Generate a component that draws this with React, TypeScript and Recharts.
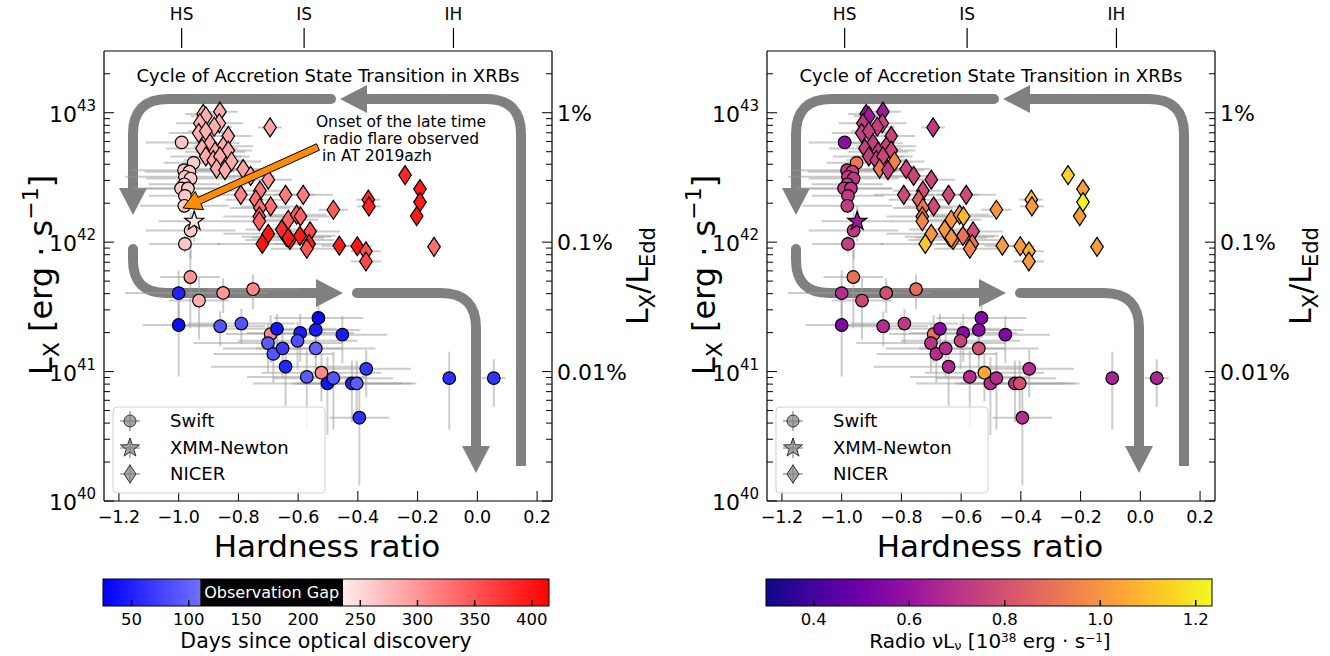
import React from 'react';
import { ScatterChart, Scatter, XAxis, YAxis, ErrorBar } from 'recharts';

// [hardness ratio, L_X (erg/s), HR error, fractional L_X error, days since discovery, radio nuLnu (1e38 erg/s)]
type Row = [number, number, number, number, number, number];

const swiftPoints: Row[] = [
  [-0.990, 5.9e42, 0.12, 0.12, 265, 0.58],
  [-0.950, 4.1e42, 0.10, 0.12, 258, 0.92],
  [-0.982, 3.6e42, 0.18, 0.12, 262, 0.72],
  [-0.964, 3.5e42, 0.15, 0.12, 262, 0.74],
  [-0.979, 3.2e42, 0.20, 0.12, 262, 0.73],
  [-0.960, 3.1e42, 0.15, 0.12, 262, 0.72],
  [-0.981, 2.8e42, 0.12, 0.12, 262, 0.74],
  [-0.992, 2.6e42, 0.16, 0.12, 262, 0.73],
  [-0.969, 2.6e42, 0.14, 0.12, 262, 0.72],
  [-0.979, 2.28e42, 0.12, 0.12, 262, 0.73],
  [-0.981, 1.91e42, 0.15, 0.12, 262, 0.73],
  [-0.960, 1.23e42, 0.15, 0.4, 262, 0.72],
  [-0.979, 9.7e41, 0.12, 0.15, 262, 0.74],
  [-0.961, 5.38e41, 0.10, 0.6, 300, 0.90],
  [-1.000, 4.04e41, 0.18, 0.5, 50, 0.68],
  [-0.932, 3.54e41, 0.10, 0.5, 280, 0.76],
  [-0.851, 4.05e41, 0.15, 0.3, 300, 0.80],
  [-0.751, 4.33e41, 0.15, 0.3, 310, 0.88],
  [-1.000, 2.29e41, 0.12, 0.6, 35, 0.55],
  [-0.861, 2.24e41, 0.15, 0.3, 90, 0.68],
  [-0.790, 2.35e41, 0.18, 0.3, 90, 0.72],
  [-0.692, 1.95e41, 0.15, 0.4, 310, 0.90],
  [-0.671, 2.14e41, 0.20, 0.3, 40, 0.56],
  [-0.701, 1.66e41, 0.25, 0.4, 95, 0.70],
  [-0.683, 1.37e41, 0.20, 0.4, 90, 0.68],
  [-0.652, 1.51e41, 0.20, 0.4, 70, 0.68],
  [-0.642, 1.09e41, 0.25, 0.5, 55, 0.66],
  [-0.593, 1.99e41, 0.18, 0.4, 45, 0.57],
  [-0.602, 1.73e41, 0.20, 0.4, 85, 0.75],
  [-0.532, 2.60e41, 0.15, 0.3, 30, 0.55],
  [-0.541, 2.10e41, 0.15, 0.4, 45, 0.57],
  [-0.541, 1.51e41, 0.20, 0.4, 100, 0.80],
  [-0.452, 1.93e41, 0.15, 0.4, 45, 0.55],
  [-0.571, 9.1e40, 0.20, 0.6, 95, 0.68],
  [-0.522, 9.8e40, 0.20, 0.4, 310, 1.05],
  [-0.502, 8.1e40, 0.25, 0.6, 40, 0.68],
  [-0.482, 8.9e40, 0.20, 0.6, 90, 0.68],
  [-0.420, 8.1e40, 0.20, 0.5, 50, 0.70],
  [-0.404, 8.1e40, 0.20, 0.5, 95, 0.80],
  [-0.395, 4.4e40, 0.10, 0.7, 60, 0.68],
  [-0.372, 1.05e41, 0.15, 0.4, 65, 0.68],
  [-0.094, 8.9e40, 0.01, 0.6, 60, 0.65],
  [0.055, 8.9e40, 0.04, 0.4, 65, 0.66],
];

const xmmPoints: Row[] = [
  [-0.948, 1.45e42, 0.12, 0.3, 240, 0.62],
];

const nicerPoints: Row[] = [
  [-0.918, 9.8e42, 0.06, 0.03, 280, 0.60],
  [-0.909, 9.4e42, 0.05, 0.03, 280, 0.62],
  [-0.929, 8.3e42, 0.08, 0.03, 280, 0.72],
  [-0.862, 1.02e43, 0.06, 0.03, 285, 0.62],
  [-0.864, 8.3e42, 0.08, 0.03, 285, 0.75],
  [-0.881, 7.8e42, 0.06, 0.03, 280, 0.74],
  [-0.933, 6.96e42, 0.10, 0.03, 280, 0.74],
  [-0.909, 7.2e42, 0.06, 0.03, 280, 0.74],
  [-0.834, 6.6e42, 0.08, 0.03, 285, 0.76],
  [-0.694, 7.7e42, 0.04, 0.03, 290, 0.72],
  [-0.895, 5.8e42, 0.10, 0.03, 285, 0.74],
  [-0.851, 5.5e42, 0.10, 0.03, 285, 0.75],
  [-0.922, 5.3e42, 0.12, 0.03, 280, 0.74],
  [-0.878, 5.0e42, 0.10, 0.03, 285, 0.74],
  [-0.834, 5.1e42, 0.08, 0.03, 285, 0.76],
  [-0.909, 4.6e42, 0.12, 0.03, 285, 0.74],
  [-0.884, 4.3e42, 0.10, 0.03, 285, 0.75],
  [-0.862, 4.6e42, 0.10, 0.03, 285, 0.76],
  [-0.823, 4.2e42, 0.10, 0.03, 285, 0.95],
  [-0.873, 3.7e42, 0.10, 0.03, 285, 0.92],
  [-0.845, 3.6e42, 0.12, 0.03, 285, 0.74],
  [-0.784, 3.67e42, 0.08, 0.03, 290, 0.76],
  [-0.759, 3.25e42, 0.08, 0.03, 290, 0.76],
  [-0.700, 3.04e42, 0.08, 0.03, 300, 0.76],
  [-0.792, 2.32e42, 0.10, 0.03, 315, 0.78],
  [-0.728, 2.50e42, 0.10, 0.03, 325, 0.78],
  [-0.642, 2.32e42, 0.10, 0.03, 320, 0.78],
  [-0.583, 2.32e42, 0.10, 0.03, 320, 0.78],
  [-0.742, 2.13e42, 0.10, 0.03, 330, 0.85],
  [-0.692, 1.89e42, 0.10, 0.03, 330, 0.78],
  [-0.728, 1.84e42, 0.10, 0.03, 330, 0.92],
  [-0.730, 1.58e42, 0.12, 0.03, 340, 0.92],
  [-0.730, 1.45e42, 0.10, 0.03, 340, 0.95],
  [-0.633, 1.49e42, 0.10, 0.03, 340, 1.00],
  [-0.605, 1.63e42, 0.10, 0.03, 345, 1.00],
  [-0.592, 1.58e42, 0.10, 0.03, 340, 1.10],
  [-0.700, 1.16e42, 0.15, 0.03, 400, 1.00],
  [-0.720, 9.7e41, 0.15, 0.03, 400, 1.12],
  [-0.639, 1.10e42, 0.15, 0.03, 395, 1.05],
  [-0.655, 1.25e42, 0.12, 0.03, 380, 1.00],
  [-0.627, 1.04e42, 0.15, 0.03, 395, 0.95],
  [-0.560, 1.21e42, 0.10, 0.03, 360, 0.78],
  [-0.594, 1.12e42, 0.12, 0.03, 395, 0.90],
  [-0.633, 1.08e42, 0.12, 0.03, 395, 1.00],
  [-0.563, 9.7e41, 0.12, 0.03, 395, 0.92],
  [-0.571, 8.9e41, 0.12, 0.03, 350, 0.95],
  [-0.462, 9.4e41, 0.06, 0.03, 395, 1.02],
  [-0.402, 9.3e41, 0.05, 0.03, 400, 1.02],
  [-0.373, 8.5e41, 0.05, 0.03, 355, 1.08],
  [-0.373, 7.1e41, 0.05, 0.03, 360, 1.02],
  [-0.482, 1.78e42, 0.05, 0.03, 345, 1.00],
  [-0.365, 2.13e42, 0.04, 0.03, 380, 1.10],
  [-0.363, 1.89e42, 0.04, 0.03, 390, 1.02],
  [-0.242, 3.30e42, 0.02, 0.03, 385, 1.15],
  [-0.192, 2.57e42, 0.02, 0.03, 395, 1.02],
  [-0.192, 2.04e42, 0.02, 0.03, 395, 1.22],
  [-0.203, 1.59e42, 0.02, 0.03, 395, 1.02],
  [-0.145, 9.2e41, 0.02, 0.03, 330, 1.02],
];

const xTicks = [-1.2, -1.0, -0.8, -0.6, -0.4, -0.2, 0.0, 0.2];
const stateTicks = [-0.99, -0.58, -0.08];
const stateLabels = ['HS', 'IS', 'IH'];
const eddTicks = [1e41, 1e42, 1e43];
const eddLabels = ['0.01%', '0.1%', '1%'];
const dayTicks = [50, 100, 150, 200, 250, 300, 350, 400];
const dayRange = [25, 415];
const gapRange = [110, 235];
const radioTicks = [0.4, 0.6, 0.8, 1.0, 1.2];
const radioRange = [0.3, 1.234];

const lxTicks: number[] = [];
for (const d of [40, 41, 42]) for (let k = 1; k <= 9; k++) lxTicks.push(k * Math.pow(10, d));
lxTicks.push(1e43, 2e43);

const W = 664, H = 656;
const PL = 104, PT = 51, PR = 552, PB = 501;
const AXW = 60, AXH = 30;
const FONT = "'DejaVu Sans', sans-serif";
const GREY = '#808080';

const plasmaStops = ['#0d0887', '#41049d', '#6a00a8', '#8f0da4', '#b12a90', '#cc4778', '#e16462', '#f2844b', '#fca636', '#fcce25', '#f0f921'];

function hex(h: string) {
  return [1, 3, 5].map((i) => parseInt(h.slice(i, i + 2), 16));
}
function plasma(t: number) {
  t = Math.max(0, Math.min(1, t));
  const s = t * (plasmaStops.length - 1);
  const i = Math.min(Math.floor(s), plasmaStops.length - 2);
  const f = s - i;
  const a = hex(plasmaStops[i]), b = hex(plasmaStops[i + 1]);
  const c = a.map((v, k) => Math.round(v + (b[k] - v) * f));
  return `rgb(${c[0]},${c[1]},${c[2]})`;
}
function bwr(t: number) {
  t = Math.max(0, Math.min(1, t));
  if (t < 0.5) {
    const v = Math.round(510 * t);
    return `rgb(${v},${v},255)`;
  }
  const v = Math.round(510 * (1 - t));
  return `rgb(255,${v},${v})`;
}
const dayColor = (d: number) => bwr((d - dayRange[0]) / (dayRange[1] - dayRange[0]));
const radioColor = (r: number) => plasma((r - radioRange[0]) / (radioRange[1] - radioRange[0]));

const isMajor = (v: number) => {
  const lg = Math.log10(v);
  return Math.abs(lg - Math.round(lg)) < 1e-6;
};

const LeftTick = (props: any) => {
  const { y, payload } = props;
  const v = payload.value;
  const major = isMajor(v);
  return (
    <g>
      <line x1={PL} x2={PL + (major ? 10 : 6)} y1={y} y2={y} stroke="#000" strokeWidth={1} />
      {major && (
        <text x={PL - 8} y={y + 9} textAnchor="end" fontSize={22} fontFamily={FONT} fill="#000">
          10<tspan dy={-11} fontSize={15}>{Math.round(Math.log10(v))}</tspan>
        </text>
      )}
    </g>
  );
};

const RightTick = (props: any) => {
  const { y, payload } = props;
  const v = payload.value;
  const major = isMajor(v);
  const idx = eddTicks.findIndex((t) => Math.abs(Math.log10(t) - Math.log10(v)) < 1e-6);
  return (
    <g>
      <line x1={PR} x2={PR - (major ? 10 : 6)} y1={y} y2={y} stroke="#000" strokeWidth={1} />
      {idx >= 0 && (
        <text x={PR + 5} y={y + 8} textAnchor="start" fontSize={22} fontFamily={FONT} fill="#000">
          {eddLabels[idx]}
        </text>
      )}
    </g>
  );
};

const BottomTick = (props: any) => {
  const { x, payload } = props;
  const v = payload.value as number;
  const label = v < 0 ? '\u2212' + Math.abs(v).toFixed(1) : v.toFixed(1);
  return (
    <g>
      <line x1={x} x2={x} y1={PB} y2={PB - 10} stroke="#000" strokeWidth={1} />
      <text x={x} y={PB + 22} textAnchor="middle" fontSize={17.5} fontFamily={FONT} fill="#000">{label}</text>
    </g>
  );
};

const TopTick = (props: any) => {
  const { x, index } = props;
  return (
    <g>
      <line x1={x} x2={x} y1={28} y2={48} stroke="#000" strokeWidth={1.2} />
      <text x={x} y={20} textAnchor="middle" fontSize={17} fontFamily={FONT} fill="#000">{stateLabels[index]}</text>
    </g>
  );
};

const Circle = (p: any) => (
  <circle cx={p.cx} cy={p.cy} r={6.3} fill={p.payload.color} stroke="#000" strokeWidth={1.2} />
);
const Diamond = (p: any) => {
  const { cx, cy } = p;
  return (
    <polygon
      points={`${cx},${cy - 9.5} ${cx + 6.3},${cy} ${cx},${cy + 9.5} ${cx - 6.3},${cy}`}
      fill={p.payload.color}
      stroke="#000"
      strokeWidth={1.2}
    />
  );
};
function starPoints(cx: number, cy: number, ro: number, ri: number) {
  const pts: string[] = [];
  for (let i = 0; i < 10; i++) {
    const r = i % 2 === 0 ? ro : ri;
    const a = -Math.PI / 2 + (i * Math.PI) / 5;
    pts.push(`${cx + r * Math.cos(a)},${cy + r * Math.sin(a)}`);
  }
  return pts.join(' ');
}
const Star = (p: any) => (
  <polygon points={starPoints(p.cx, p.cy, 10, 4)} fill={p.payload.color} stroke="#000" strokeWidth={1.2} />
);
const Nothing = () => <g />;

function Arrows() {
  return (
    <svg width={W} height={H} style={{ position: 'absolute', left: 0, top: 0 }}>
      <g fill="none" stroke={GREY} strokeWidth={10}>
        <path d="M521 466 L521 134 Q521 99 486 99 L364 99" />
        <path d="M331 99 L168 99 Q133 99 133 134 L133 190" strokeLinecap="round" />
        <path d="M133 249 L133 260 Q133 293 166 293 L318 293" strokeLinecap="round" />
        <path d="M357 293 L441 293 Q476 293 476 328 L476 448" strokeLinecap="round" />
      </g>
      <g fill={GREY}>
        <polygon points="340,99 367,85 367,113" />
        <polygon points="133,215 119,188 147,188" />
        <polygon points="343,293 316,279 316,307" />
        <polygon points="476,473 462,446 490,446" />
      </g>
    </svg>
  );
}

function Overlay({ mode }: { mode: 'days' | 'radio' }) {
  const cx0 = 103, cx1 = 549, cy0 = 579, ch = 27;
  const dpos = (v: number) => cx0 + ((v - dayRange[0]) / (dayRange[1] - dayRange[0])) * (cx1 - cx0);
  const rpos = (v: number) => cx0 + ((v - radioRange[0]) / (radioRange[1] - radioRange[0])) * (cx1 - cx0);
  const gid = `g-${mode}`;
  const stops = (f: (t: number) => string, t0: number, t1: number) =>
    Array.from({ length: 11 }, (_, i) => {
      const t = t0 + ((t1 - t0) * i) / 10;
      return <stop key={i} offset={`${i * 10}%`} stopColor={f(t)} />;
    });
  const tD = (d: number) => (d - dayRange[0]) / (dayRange[1] - dayRange[0]);
  const legendRows = [
    { label: 'Swift', y: 421, kind: 'c' },
    { label: 'XMM-Newton', y: 448, kind: 's' },
    { label: 'NICER', y: 474, kind: 'd' },
  ];
  const orangeArrow = (() => {
    const x0 = 318, y0 = 147, x1 = 183, y1 = 208;
    const L = Math.hypot(x1 - x0, y1 - y0);
    const ux = (x1 - x0) / L, uy = (y1 - y0) / L;
    const nx = -uy, ny = ux;
    const hl = 18, hw = 10, sw = 3.5;
    const bx = x1 - ux * hl, by = y1 - uy * hl;
    const p = [
      [x0 + nx * sw, y0 + ny * sw],
      [bx + nx * sw, by + ny * sw],
      [bx + nx * hw, by + ny * hw],
      [x1, y1],
      [bx - nx * hw, by - ny * hw],
      [bx - nx * sw, by - ny * sw],
      [x0 - nx * sw, y0 - ny * sw],
    ];
    return p.map((q) => q.join(',')).join(' ');
  })();
  return (
    <svg width={W} height={H} style={{ position: 'absolute', left: 0, top: 0, pointerEvents: 'none' }} fontFamily={FONT}>
      <text x={328} y={82} textAnchor="middle" fontSize={18}>Cycle of Accretion State Transition in XRBs</text>
      {mode === 'days' && (
        <g>
          <text x={401} y={127} textAnchor="middle" fontSize={15.5}>Onset of the late time</text>
          <text x={401} y={144} textAnchor="middle" fontSize={15.5}>radio flare observed</text>
          <text x={322} y={161} textAnchor="start" fontSize={15.5}>in AT 2019azh</text>
          <polygon points={orangeArrow} fill="#ff8c00" stroke="#000" strokeWidth={1} />
        </g>
      )}
      {/* legend */}
      <rect x={113} y={407} width={212} height={86} rx={4} fill="#fff" fillOpacity={0.8} stroke="#d0d0d0" />
      {legendRows.map((r) => (
        <g key={r.label}>
          <line x1={120} x2={140} y1={r.y} y2={r.y} stroke="#999" strokeOpacity={0.7} strokeWidth={2} />
          <line x1={130} x2={130} y1={r.y - 10} y2={r.y + 10} stroke="#999" strokeOpacity={0.7} strokeWidth={2} />
          {r.kind === 'c' && <circle cx={130} cy={r.y} r={6} fill={GREY} fillOpacity={0.7} stroke="#333" />}
          {r.kind === 's' && <polygon points={starPoints(130, r.y, 10, 4)} fill={GREY} fillOpacity={0.7} stroke="#333" />}
          {r.kind === 'd' && (
            <polygon points={`130,${r.y - 9} 136,${r.y} 130,${r.y + 9} 124,${r.y}`} fill={GREY} fillOpacity={0.7} stroke="#333" />
          )}
          <text x={170} y={r.y + 6} fontSize={18}>{r.label}</text>
        </g>
      ))}
      {/* axis titles */}
      <text x={327} y={557} textAnchor="middle" fontSize={31}>Hardness ratio</text>
      <text transform="translate(52,275) rotate(-90)" textAnchor="middle" fontSize={32}>
        L<tspan fontSize={22} dy={7}>X</tspan>
        <tspan dy={-7}> [erg · s</tspan>
        <tspan fontSize={22} dy={-14}>{'\u22121'}</tspan>
        <tspan dy={14}>]</tspan>
      </text>
      <text transform="translate(648,276) rotate(-90)" textAnchor="middle" fontSize={30}>
        L<tspan fontSize={21} dy={7}>X</tspan>
        <tspan dy={-7}>/L</tspan>
        <tspan fontSize={21} dy={7}>Edd</tspan>
      </text>
      {/* colorbar */}
      <defs>
        {mode === 'days' ? (
          <>
            <linearGradient id={`${gid}-b`}>{stops(bwr, tD(dayRange[0]), tD(gapRange[0]))}</linearGradient>
            <linearGradient id={`${gid}-r`}>{stops(bwr, tD(gapRange[1]), tD(dayRange[1]))}</linearGradient>
          </>
        ) : (
          <linearGradient id={`${gid}-p`}>{stops(plasma, 0, 1)}</linearGradient>
        )}
      </defs>
      {mode === 'days' ? (
        <g>
          <rect x={cx0} y={cy0} width={dpos(gapRange[0]) - cx0} height={ch} fill={`url(#${gid}-b)`} />
          <rect x={dpos(gapRange[0])} y={cy0} width={dpos(gapRange[1]) - dpos(gapRange[0])} height={ch} fill="#000" />
          <rect x={dpos(gapRange[1])} y={cy0} width={cx1 - dpos(gapRange[1])} height={ch} fill={`url(#${gid}-r)`} />
          <text x={(dpos(gapRange[0]) + dpos(gapRange[1])) / 2} y={cy0 + 19} textAnchor="middle" fontSize={16} fill="#fff">
            Observation Gap
          </text>
          {dayTicks.map((v) => (
            <g key={v}>
              {(v < gapRange[0] || v > gapRange[1]) && (
                <line x1={dpos(v)} x2={dpos(v)} y1={cy0 + ch} y2={cy0 + ch - 6} stroke="#000" strokeWidth={1.5} />
              )}
              <text x={dpos(v)} y={cy0 + ch + 19} textAnchor="middle" fontSize={16.5}>{v}</text>
            </g>
          ))}
          <text x={326} y={648} textAnchor="middle" fontSize={20.5}>Days since optical discovery</text>
        </g>
      ) : (
        <g>
          <rect x={cx0} y={cy0} width={cx1 - cx0} height={ch} fill={`url(#${gid}-p)`} />
          {radioTicks.map((v) => (
            <g key={v}>
              <line x1={rpos(v)} x2={rpos(v)} y1={cy0 + ch} y2={cy0 + ch - 6} stroke="#000" strokeWidth={1.5} />
              <text x={rpos(v)} y={cy0 + ch + 19} textAnchor="middle" fontSize={16.5}>{v.toFixed(1)}</text>
            </g>
          ))}
          <text x={327} y={648} textAnchor="middle" fontSize={20}>
            Radio νL<tspan fontSize={13} dy={2}>ν</tspan>
            <tspan dy={-2}> [10</tspan>
            <tspan fontSize={12} dy={-6}>38</tspan>
            <tspan dy={6}> erg · s</tspan>
            <tspan fontSize={12} dy={-6}>{'\u22121'}</tspan>
            <tspan dy={6}>]</tspan>
          </text>
        </g>
      )}
      <rect x={cx0} y={cy0} width={cx1 - cx0} height={ch} fill="none" stroke="#000" strokeWidth={1} />
    </svg>
  );
}

function Panel({ mode, left }: { mode: 'days' | 'radio'; left: number }) {
  const build = (rows: Row[]) =>
    rows.map((r) => ({
      hr: r[0],
      lx: r[1],
      ex: r[2],
      ey: [r[1] * r[3], r[1] * r[3]],
      color: mode === 'days' ? dayColor(r[4]) : radioColor(r[5]),
    }));
  const swift = build(swiftPoints);
  const xmm = build(xmmPoints);
  const nicer = build(nicerPoints);
  const all = [...swift, ...xmm, ...nicer];
  const errProps = { stroke: '#9a9a9a', strokeOpacity: 0.5, strokeWidth: 2, width: 0 } as any;
  return (
    <div style={{ position: 'absolute', left, top: 0, width: W, height: H }}>
      <Arrows />
      <div style={{ position: 'absolute', left: 0, top: 0 }}>
        <ScatterChart
          width={W}
          height={H}
          margin={{ left: PL - AXW, right: W - PR - AXW, top: PT - AXH, bottom: H - PB - AXH }}
        >
          <XAxis
            xAxisId="b"
            dataKey="hr"
            type="number"
            domain={[-1.25, 0.25]}
            ticks={xTicks}
            interval={0}
            height={AXH}
            tick={BottomTick}
            tickLine={false}
            axisLine={{ stroke: '#000', strokeWidth: 1.2 }}
            allowDataOverflow
          />
          <XAxis
            xAxisId="t"
            orientation="top"
            dataKey="hr"
            type="number"
            domain={[-1.25, 0.25]}
            ticks={stateTicks}
            interval={0}
            height={AXH}
            tick={TopTick}
            tickLine={false}
            axisLine={{ stroke: '#000', strokeWidth: 1.2 }}
            allowDataOverflow
          />
          <YAxis
            yAxisId="l"
            dataKey="lx"
            type="number"
            scale="log"
            domain={[1e40, 3e43]}
            ticks={lxTicks}
            interval={0}
            width={AXW}
            tick={LeftTick}
            tickLine={false}
            axisLine={{ stroke: '#000', strokeWidth: 1.2 }}
            allowDataOverflow
          />
          <YAxis
            yAxisId="r"
            orientation="right"
            dataKey="lx"
            type="number"
            scale="log"
            domain={[1e40, 3e43]}
            ticks={lxTicks}
            interval={0}
            width={AXW}
            tick={RightTick}
            tickLine={false}
            axisLine={{ stroke: '#000', strokeWidth: 1.2 }}
            allowDataOverflow
          />
          <Scatter xAxisId="t" yAxisId="r" data={[]} shape={Nothing} isAnimationActive={false} />
          <Scatter xAxisId="b" yAxisId="l" data={all} shape={Nothing} isAnimationActive={false}>
            <ErrorBar dataKey="ex" direction="x" {...errProps} />
            <ErrorBar dataKey="ey" direction="y" {...errProps} />
          </Scatter>
          <Scatter xAxisId="b" yAxisId="l" data={swift} shape={Circle} isAnimationActive={false} />
          <Scatter xAxisId="b" yAxisId="l" data={nicer} shape={Diamond} isAnimationActive={false} />
          <Scatter xAxisId="b" yAxisId="l" data={xmm} shape={Star} isAnimationActive={false} />
        </ScatterChart>
      </div>
      <Overlay mode={mode} />
    </div>
  );
}

export default function App() {
  return (
    <div style={{ position: 'absolute', left: 0, top: 0, width: 1330, height: 656, background: '#fff', fontFamily: FONT }}>
      <Panel mode="days" left={0} />
      <Panel mode="radio" left={663} />
    </div>
  );
}
